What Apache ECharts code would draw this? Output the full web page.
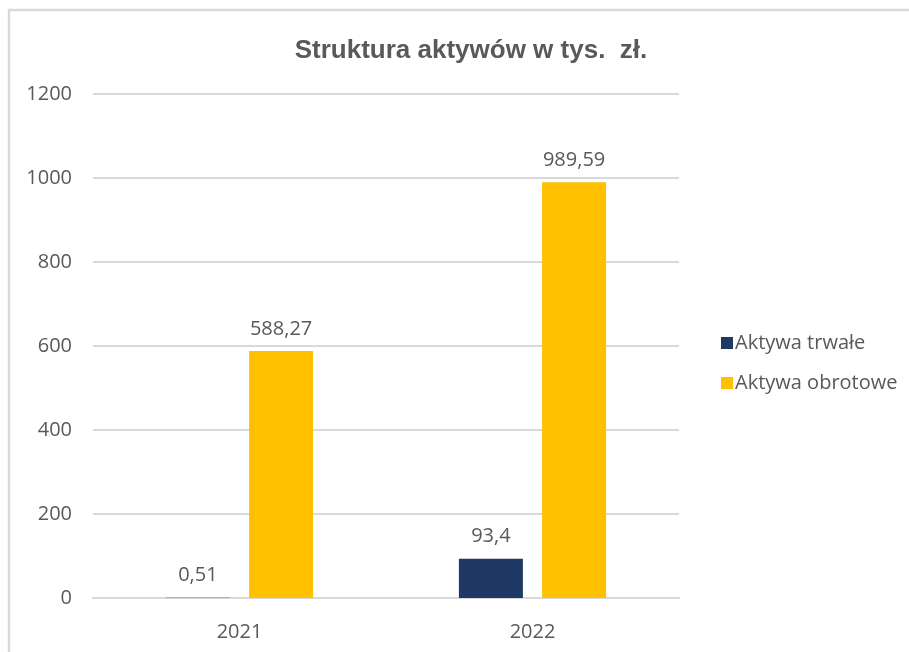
<!DOCTYPE html>
<html>
<head>
<meta charset="utf-8">
<script src="https://cdn.jsdelivr.net/npm/echarts@6/dist/echarts.min.js"></script>
<style>
  html, body { margin: 0; padding: 0; background: #fff; }
  #chart { width: 909px; height: 652px; }
</style>
</head>
<body>
<div id="chart"></div>
<script>
// Asset structure, thousands of PLN
const years = ['2021', '2022'];
const fixedAssets = [0.51, 93.4];
const currentAssets = [588.27, 989.59];
const seriesNames = ['Aktywa trwałe', 'Aktywa obrotowe'];
const chartTitle = 'Struktura aktywów w tys.  zł.';

const textColor = '#595959';
const gridColor = '#d9d9d9';
const labelFont = '"Open Sans", sans-serif';

const fmt = p => String(p.value).replace('.', ',');

const chart = echarts.init(document.getElementById('chart'));
chart.setOption({
  animation: false,
  backgroundColor: '#fff',
  graphic: [{
    type: 'rect',
    shape: { x: 9, y: 10, width: 960, height: 700 },
    style: { fill: 'none', stroke: '#d9d9d9', lineWidth: 2.5 },
    silent: true
  }],
  title: {
    text: chartTitle,
    left: 466,
    textAlign: 'center',
    top: 33,
    textStyle: {
      fontFamily: '"Liberation Sans", Arial, sans-serif',
      fontSize: 26,
      fontWeight: 'bold',
      color: textColor
    }
  },
  legend: {
    orient: 'vertical',
    left: 716,
    top: 328,
    itemWidth: 12,
    itemHeight: 12,
    itemGap: 20,
    icon: 'rect',
    textStyle: { fontFamily: labelFont, fontSize: 20, color: textColor, padding: [0, 0, 0, -3] },
    data: seriesNames
  },
  grid: { left: 93, right: 230, top: 94, bottom: 54, containLabel: false },
  xAxis: {
    type: 'category',
    data: years,
    axisLine: { lineStyle: { color: gridColor, width: 2 } },
    axisTick: { show: false },
    axisLabel: { fontFamily: labelFont, fontSize: 20, color: textColor, margin: 24 }
  },
  yAxis: {
    type: 'value',
    min: 0,
    max: 1200,
    interval: 200,
    axisLine: { show: false },
    axisTick: { show: false },
    axisLabel: { fontFamily: labelFont, fontSize: 20, color: textColor, margin: 21,
                 formatter: v => String(v) },
    splitLine: { lineStyle: { color: gridColor, width: 2 } }
  },
  series: [
    {
      name: seriesNames[0],
      type: 'bar',
      data: fixedAssets,
      barWidth: 64,
      barGap: '30%',
      itemStyle: { color: '#1f3864' },
      label: { show: true, position: 'top', distance: 12, formatter: fmt,
               fontFamily: labelFont, fontSize: 20, color: textColor }
    },
    {
      name: seriesNames[1],
      type: 'bar',
      data: currentAssets,
      barWidth: 64,
      barGap: '30%',
      itemStyle: { color: '#ffc000' },
      label: { show: true, position: 'top', distance: 12, formatter: fmt,
               fontFamily: labelFont, fontSize: 20, color: textColor }
    }
  ]
});
</script>
</body>
</html>
